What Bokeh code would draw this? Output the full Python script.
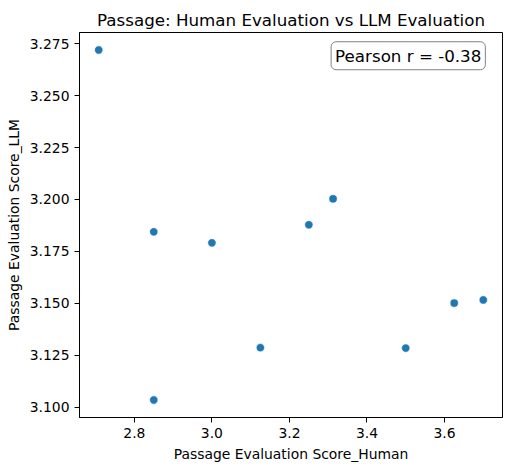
import numpy as np
from bokeh.plotting import figure
from bokeh.models import Range1d, FixedTicker, PrintfTickFormatter, Label
from bokeh.embed import file_html
from bokeh.resources import INLINE

human_scores = [2.708, 2.85, 2.85, 3.0, 3.125, 3.25, 3.3125, 3.5, 3.625, 3.7]
llm_scores = [3.272, 3.1844, 3.1034, 3.1791, 3.1286, 3.1878, 3.2003, 3.1284, 3.1501, 3.1516]
x_ticks = [2.8, 3.0, 3.2, 3.4, 3.6]
y_ticks = [3.100, 3.125, 3.150, 3.175, 3.200, 3.225, 3.250, 3.275]
title_text = "Passage: Human Evaluation vs LLM Evaluation"
x_label = "Passage Evaluation Score_Human"
y_label = "Passage Evaluation Score_LLM"

r = np.corrcoef(human_scores, llm_scores)[0, 1]

def padded(vals, m=0.05):
    lo, hi = min(vals), max(vals)
    d = (hi - lo) * m
    return lo - d, hi + d

x0, x1 = padded(human_scores)
y0, y1 = padded(llm_scores)

FONT = "DejaVu Sans"
p = figure(width=511, height=470, output_backend="svg", toolbar_location=None,
           x_range=Range1d(x0, x1), y_range=Range1d(y0, y1),
           min_border_left=79, min_border_right=9, min_border_top=32, min_border_bottom=53)
p.title.text = title_text
p.title.align = "center"
p.title.text_font = FONT
p.title.text_font_size = "16.7px"
p.title.text_font_style = "normal"
p.title.text_color = "black"
p.title.standoff = 6

p.grid.visible = False
p.outline_line_color = "black"
p.outline_line_width = 1
p.background_fill_color = "white"
p.border_fill_color = "white"

for ax in (p.xaxis[0], p.yaxis[0]):
    ax.major_tick_out = 5
    ax.major_tick_in = 0
    ax.minor_tick_line_color = None
    ax.axis_line_color = "black"
    ax.major_tick_line_color = "black"
    ax.major_label_text_font = FONT
    ax.major_label_text_font_size = "13.9px"
    ax.major_label_text_color = "black"
    ax.axis_label_text_font = FONT
    ax.axis_label_text_font_size = "13.9px"
    ax.axis_label_text_font_style = "normal"
    ax.axis_label_text_color = "black"

p.xaxis.ticker = FixedTicker(ticks=x_ticks)
p.yaxis.ticker = FixedTicker(ticks=y_ticks)
p.xaxis.formatter = PrintfTickFormatter(format="%.1f")
p.yaxis.formatter = PrintfTickFormatter(format="%.3f")
p.xaxis.axis_label = x_label
p.yaxis.axis_label = y_label

p.scatter(human_scores, llm_scores, size=8.3, fill_color="#1f77b4", line_color="white", line_width=0.6)

lab = Label(x=x1 - 0.05 * (x1 - x0), y=y1 - 0.05 * (y1 - y0),
            x_offset=4, y_offset=10,
            text=f"Pearson r = {r:.2f}", text_align="right", text_baseline="top",
            text_font=FONT, text_font_size="16.7px", text_color="black",
            background_fill_color="white", border_line_color="#808080", border_line_width=1,
            padding=4, border_radius=5)
p.add_layout(lab)

open("out.html", "w").write(file_html(p, INLINE))
print(r)
